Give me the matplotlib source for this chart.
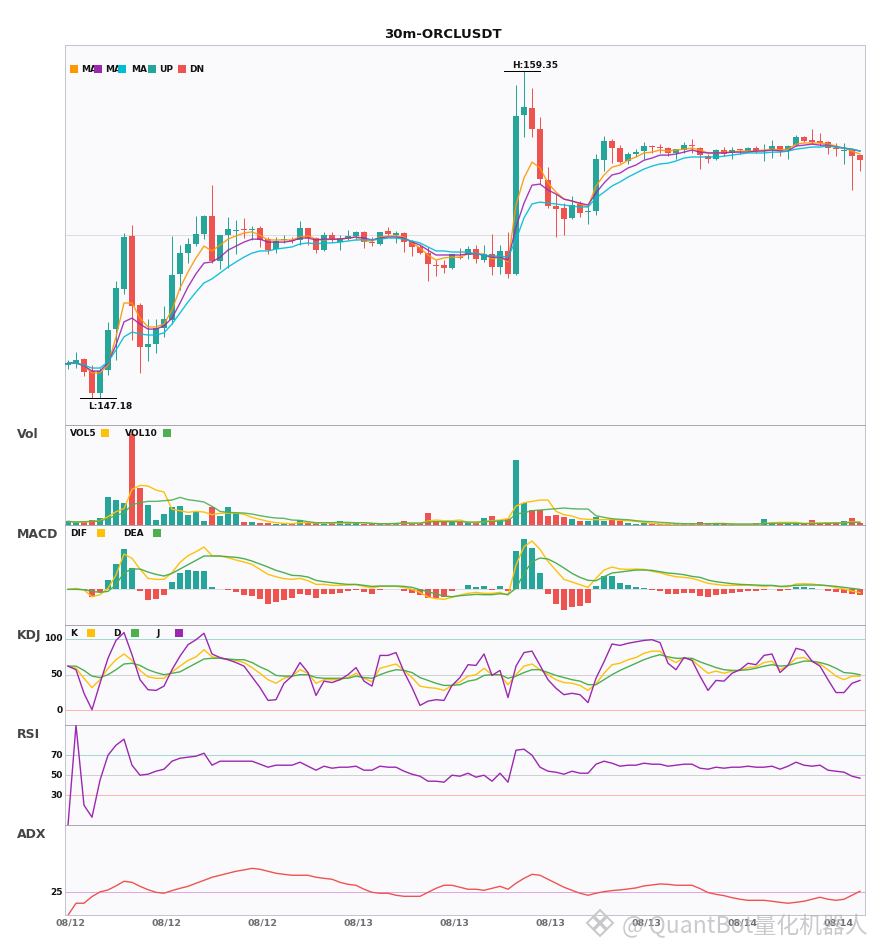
import matplotlib
matplotlib.use("Agg")
import matplotlib.pyplot as plt
from matplotlib.lines import Line2D
from matplotlib.patches import Rectangle

symbol_title = "30m-ORCLUSDT"
tick_positions = [0, 12, 24, 36, 48, 60, 72, 84, 96]
tick_labels = ["08/12", "08/12", "08/12", "08/13", "08/13", "08/13", "08/13", "08/14", "08/14"]

opens = [148.42,148.47,148.63,148.18,147.36,148.22,149.75,151.23,153.21,150.64,
         149.07,149.19,149.78,150.08,151.79,152.57,152.91,153.28,153.95,152.28,
         153.24,153.39,153.47,153.43,153.50,153.09,152.72,153.06,153.06,153.06,
         153.50,153.13,152.68,153.24,152.99,153.09,153.21,153.36,152.98,152.91,
         153.39,153.24,153.32,152.98,152.80,152.57,152.13,152.13,152.02,152.42,
         152.50,152.72,152.31,152.54,152.05,152.65,151.79,157.71,157.97,157.19,
         155.29,154.32,154.25,153.88,154.40,154.10,154.14,156.03,156.74,156.48,
         156.00,156.26,156.37,156.56,156.52,156.48,156.30,156.41,156.59,156.48,
         156.18,156.07,156.41,156.30,156.44,156.37,156.48,156.37,156.44,156.56,
         156.41,156.59,156.89,156.78,156.74,156.71,156.48,156.37,156.41,156.22]
closes = [148.47,148.59,148.14,147.36,148.18,149.71,151.27,153.17,150.60,149.07,
          149.19,149.78,150.12,151.75,152.57,152.91,153.28,153.95,152.28,153.24,
          153.47,153.43,153.43,153.47,153.06,152.68,153.02,153.09,153.02,153.50,
          153.13,152.68,153.24,153.06,153.13,153.21,153.36,152.98,152.95,153.36,
          153.28,153.32,152.98,152.80,152.57,152.16,152.09,152.02,152.54,152.39,
          152.72,152.35,152.54,152.05,152.65,151.79,157.67,158.01,157.19,155.33,
          154.32,154.21,153.84,154.36,154.06,154.14,156.07,156.74,156.48,155.96,
          156.26,156.33,156.56,156.52,156.48,156.30,156.44,156.59,156.56,156.22,
          156.07,156.41,156.26,156.41,156.41,156.48,156.37,156.41,156.56,156.37,
          156.56,156.89,156.74,156.71,156.67,156.48,156.44,156.41,156.18,156.03]
highs = [148.59,148.89,148.67,148.40,148.29,150.01,151.53,153.32,153.62,150.71,
         150.12,150.12,150.60,153.21,152.87,153.13,153.95,153.99,155.10,153.24,
         153.91,153.80,153.88,153.58,153.58,153.17,153.17,153.24,153.17,153.76,
         153.50,153.17,153.36,153.36,153.24,153.43,153.39,153.39,153.17,153.36,
         153.54,153.39,153.36,153.06,152.87,152.80,152.31,152.31,152.54,152.76,
         152.83,152.87,152.87,153.28,152.87,153.36,158.83,159.35,158.71,157.64,
         155.77,154.77,154.43,154.70,154.51,154.36,156.26,156.93,156.82,156.59,
         156.33,156.44,156.71,156.59,156.63,156.52,156.44,156.71,156.82,156.52,
         156.26,156.44,156.52,156.52,156.44,156.52,156.56,156.63,156.78,156.56,
         156.59,156.97,156.93,157.19,157.04,156.74,156.67,156.67,156.44,156.22]
lows = [148.26,148.29,147.99,147.18,147.18,148.03,148.59,151.05,149.34,148.11,
        148.55,148.85,149.45,149.93,151.20,152.20,152.83,153.09,152.20,151.98,
        152.02,152.54,153.13,153.06,152.80,152.54,152.57,152.95,152.95,152.87,
        152.87,152.57,152.65,152.98,152.68,153.06,153.06,152.76,152.83,152.87,
        153.24,152.95,152.61,152.46,152.54,151.53,151.72,151.83,151.98,152.35,
        152.35,152.20,152.24,151.75,151.79,151.64,151.75,156.89,156.89,155.14,
        154.25,153.17,153.24,153.84,153.91,153.65,153.99,155.63,155.92,155.92,
        155.89,156.15,156.07,156.30,156.30,156.18,156.07,156.30,156.30,155.70,
        155.92,156.03,156.18,156.07,156.26,156.33,156.30,156.00,156.11,156.18,
        156.07,156.56,156.71,156.63,156.59,156.26,156.18,155.89,154.92,155.63]

ma5 = [148.48,148.48,148.37,148.11,148.11,148.40,149.45,150.71,150.71,150.15,
       149.82,149.82,149.93,150.45,151.27,151.87,152.39,152.83,152.65,152.87,
       153.09,153.21,153.32,153.36,153.24,153.06,153.06,153.06,153.06,153.17,
       153.21,153.09,153.06,153.09,153.09,153.13,153.17,153.02,153.02,153.17,
       153.21,153.21,153.17,152.95,152.76,152.50,152.31,152.39,152.42,152.42,
       152.54,152.54,152.54,152.35,152.42,152.24,154.36,155.37,155.96,155.74,
       155.18,154.84,154.58,154.51,154.40,154.29,155.07,155.48,155.77,155.85,
       156.03,156.15,156.30,156.33,156.41,156.37,156.41,156.44,156.48,156.41,
       156.30,156.30,156.33,156.33,156.37,156.37,156.37,156.41,156.44,156.41,
       156.44,156.63,156.67,156.67,156.67,156.63,156.56,156.48,156.37,156.26]
ma10 = [148.48,148.48,148.37,148.18,148.18,148.48,149.15,150.01,150.15,149.93,
        149.74,149.74,149.86,150.15,150.71,151.31,151.80,152.20,152.24,152.42,
        152.68,152.83,152.98,153.09,153.09,152.98,152.98,152.98,153.02,153.13,
        153.13,153.06,153.09,153.09,153.09,153.13,153.17,153.13,153.06,153.13,
        153.17,153.17,153.13,152.98,152.87,152.68,152.50,152.50,152.50,152.50,
        152.54,152.54,152.50,152.42,152.42,152.31,153.54,154.43,155.10,155.14,
        154.92,154.77,154.58,154.51,154.43,154.36,154.81,155.18,155.48,155.55,
        155.74,155.85,156.03,156.11,156.22,156.22,156.26,156.33,156.41,156.33,
        156.30,156.30,156.30,156.33,156.33,156.33,156.37,156.37,156.41,156.37,
        156.37,156.56,156.59,156.63,156.59,156.59,156.52,156.48,156.44,156.37]
ma20 = [148.48,148.48,148.40,148.29,148.29,148.52,148.96,149.45,149.63,149.56,
        149.52,149.52,149.60,149.93,150.34,150.75,151.12,151.46,151.61,151.83,
        152.05,152.24,152.42,152.57,152.65,152.65,152.72,152.76,152.80,152.91,
        152.95,152.91,152.95,152.95,152.98,153.02,153.06,153.06,153.06,153.09,
        153.13,153.13,153.09,153.02,152.95,152.80,152.65,152.65,152.61,152.61,
        152.61,152.54,152.50,152.46,152.46,152.42,153.06,153.88,154.40,154.47,
        154.43,154.40,154.36,154.32,154.29,154.29,154.62,154.84,155.07,155.22,
        155.40,155.55,155.70,155.81,155.89,155.92,156.00,156.11,156.15,156.15,
        156.15,156.15,156.18,156.22,156.26,156.30,156.30,156.30,156.33,156.33,
        156.37,156.44,156.48,156.52,156.52,156.56,156.52,156.48,156.44,156.37]

volume = [10,8,8,14,19,83,74,65,272,110,
          59,14,32,53,56,29,40,11,53,26,
          53,35,8,8,5,5,3,3,2,14,
          5,5,3,4,11,5,4,3,3,2,
          2,4,11,4,4,35,11,7,7,7,
          7,4,20,26,14,18,194,64,44,44,
          26,29,23,17,11,11,23,11,17,11,
          5,2,5,3,1,1,1,2,2,8,
          2,2,3,1,1,1,4,17,4,3,
          4,4,3,14,5,8,5,11,20,5]
vol5 = [10,8,8,10,12,24,39,48,106,118,
        116,104,98,46,42,37,40,38,30,34,
        35,35,31,22,16,10,6,4,3,6,
        6,5,5,5,5,5,6,6,4,3,
        3,3,4,4,4,11,14,12,12,14,
        7,6,9,12,14,18,56,66,70,74,
        74,40,30,26,18,16,15,15,16,13,
        12,10,7,4,2,2,2,2,2,3,
        3,4,4,2,1,1,1,4,6,7,
        7,7,4,5,5,6,6,6,9,8]
vol10 = [10,8,9,10,11,18,28,35,60,66,
         70,70,72,74,82,75,72,68,55,40,
         37,36,35,32,27,23,20,19,14,13,
         9,6,6,6,7,7,6,6,4,3,
         3,4,5,5,5,8,9,9,9,9,
         8,8,9,10,11,12,32,36,42,44,
         46,48,50,48,47,47,27,22,18,16,
         15,12,10,9,7,6,4,3,3,3,
         3,3,3,2,2,2,2,3,4,4,
         4,4,3,3,4,4,5,5,7,7]

macd_hist = [0,1,-1,-22,-8,27,75,121,64,-4,
             -31,-28,-17,22,49,58,55,55,7,0,
             -2,-8,-17,-20,-29,-44,-38,-32,-26,-14,
             -17,-26,-14,-14,-11,-5,-2,-8,-14,-3,
             0,0,-5,-11,-17,-26,-26,-23,-5,0,
             13,7,10,-2,10,-5,115,151,124,49,
             -14,-44,-62,-53,-50,-41,10,40,40,19,
             13,7,3,-2,-5,-14,-14,-11,-11,-20,
             -23,-17,-14,-11,-8,-5,-5,-2,0,-5,
             -2,7,7,3,0,-5,-8,-11,-14,-17]
dif = [0,3,-2,-22,-16,3,43,106,93,61,
       33,30,30,50,81,101,113,127,101,100,
       95,88,82,75,60,45,38,32,30,33,
       26,15,15,12,12,13,14,9,4,9,
       9,9,6,0,-9,-23,-28,-30,-24,-17,
       -12,-9,-12,-12,-9,-18,73,128,145,120,
       84,57,30,22,14,6,33,58,67,61,
       60,61,60,54,50,43,38,36,33,26,
       18,15,12,12,12,13,11,9,11,8,
       8,16,17,16,13,11,5,1,-5,-10]
dea = [0,0,-1,-6,-9,-6,14,50,61,61,
       52,45,40,48,61,74,87,100,100,100,
       98,96,92,85,76,67,57,50,42,41,
       37,27,23,20,17,15,15,12,9,10,
       10,10,9,6,-1,-7,-14,-20,-22,-19,
       -17,-15,-16,-16,-13,-15,3,48,83,94,
       91,79,64,48,36,27,26,38,49,52,
       55,58,58,57,53,49,47,44,39,36,
       28,23,20,17,15,14,13,12,12,9,
       10,12,13,13,13,11,9,6,3,0]

k_vals = [62,59,45,32,43,59,71,79,70,56,
          47,45,45,54,62,70,75,85,75,73,
          71,70,67,60,52,43,38,45,48,57,
          52,38,43,43,43,46,52,45,40,59,
          62,65,56,46,34,32,31,28,35,40,
          48,50,59,50,50,36,50,62,65,57,
          50,43,39,38,35,28,37,52,64,66,
          71,74,80,83,83,73,67,74,71,61,
          52,55,52,55,56,60,61,67,69,57,
          63,73,74,68,65,57,48,43,48,48]
d_vals = [62,62,56,48,46,50,57,65,66,63,
          57,53,50,52,54,60,66,72,73,73,
          72,71,71,67,61,56,49,48,48,50,
          50,46,45,45,45,45,48,46,45,50,
          54,57,56,53,46,42,38,35,35,36,
          41,43,49,50,50,45,48,53,57,57,
          53,49,46,43,41,36,36,43,50,56,
          61,66,71,75,78,75,73,73,73,68,
          64,60,57,56,56,57,59,62,64,62,
          63,66,69,69,67,64,59,53,52,50]
j_vals = [62,57,24,1,38,73,98,109,78,43,
          29,28,34,57,76,92,99,108,79,74,
          71,67,62,47,32,14,15,38,48,67,
          53,21,41,39,43,50,60,41,34,77,
          77,81,54,32,7,13,15,14,35,46,
          64,63,79,49,56,18,62,81,83,63,
          43,31,22,24,22,11,45,68,93,91,
          94,96,98,99,95,66,57,74,70,48,
          28,42,41,52,57,66,64,77,79,53,
          63,87,84,69,62,43,25,25,38,42]

rsi_vals = [0,100,20,8,45,70,80,86,60,50,
            51,54,56,64,67,68,69,72,60,64,
            64,64,64,64,61,58,60,60,60,63,
            59,55,59,57,58,58,59,55,55,59,
            58,58,54,51,49,44,44,43,50,49,
            52,48,50,44,52,43,75,76,70,58,
            54,53,51,54,52,52,61,64,62,59,
            60,60,62,61,61,59,60,61,61,57,
            56,58,57,58,58,59,58,58,59,56,
            59,63,60,59,60,55,54,53,49,47]
adx_vals = [7.8,16.8,16.8,21.8,25.3,26.8,29.8,33.3,32.5,29.5,
            27,25,24.3,26.3,28,29.5,31.8,34,36.3,37.8,
            39.3,40.8,41.8,43,42.3,40.8,39.3,38.5,37.8,37.8,
            37.8,36.3,35.5,34.8,32.5,31,30.3,27.3,25,24.3,
            24.3,22.8,22,22,22,25,28,30.3,30.3,28.8,
            27.3,27.3,26.5,28,29.5,27.3,31.8,35.5,38.5,37.8,
            34.8,31.8,28.8,26.5,24.3,22.8,24.3,25.5,26.3,26.8,
            27.5,28.3,29.8,30.5,31.3,31,30.3,30.3,30.3,27.8,
            24.8,23.5,22.5,21,19.8,19,19,19,18.3,17.5,
            16.8,17.5,18.3,19.8,21.3,19.8,19,19.8,22.8,25.8]

UP = "#26A69A"
DN = "#EF5350"
ORANGE = "#FF9800"
PURPLE = "#9C27B0"
CYAN = "#00BCD4"
YELLOW = "#FFC107"
GREEN = "#4CAF50"
BG = "#FAFAFD"
W, H = 885, 950
HAIR = 0.72

fig = plt.figure(figsize=(W / 100, H / 100), dpi=100, facecolor="white")
plt.rcParams["font.family"] = "DejaVu Sans"


def panel(top, bottom, ylim):
    ax = fig.add_axes([65.0 / W, 1 - bottom / H, 800 / W, (bottom - top) / H], facecolor=BG)
    ax.set_xlim(-0.375, 99.625)
    ax.set_ylim(*ylim)
    ax.tick_params(axis="both", length=0)
    ax.set_xticks([])
    ax.set_yticks([])
    for side in ("left", "right", "bottom"):
        ax.spines[side].set_color("#C4C4CE")
        ax.spines[side].set_linewidth(HAIR)
    ax.spines["top"].set_color("#A8A8AE")
    ax.spines["top"].set_linewidth(HAIR)
    return ax


def px_text(x, y, s, **kw):
    kw.setdefault("fontsize", 6.5)
    kw.setdefault("fontweight", "bold")
    kw.setdefault("color", "#111111")
    kw.setdefault("va", "center")
    kw.setdefault("zorder", 20)
    return fig.text(x / W, 1 - y / H, s, **kw)


def swatch(x, y, color, size=8):
    fig.add_artist(Rectangle((x / W, 1 - (y + size) / H), size / W, size / H,
                             transform=fig.transFigure, facecolor=color,
                             edgecolor="none", zorder=25))


def axis_label(ax, val, s):
    ax.text(-0.003, val, s, transform=ax.get_yaxis_transform(), ha="right", va="center",
            fontsize=6.5, fontweight="bold", color="#111111", clip_on=False)


xs = list(range(100))
colors = [UP if c >= o else DN for o, c in zip(opens, closes)]

# main panel
ax0 = panel(45, 424.7, (146.18, 160.32))
ax0.spines["top"].set_color("#C4C4CE")
ax0.axhline(153.24, color="#DDDDE0", lw=HAIR, zorder=1)
ax0.vlines(xs, lows, highs, colors=colors, lw=HAIR, zorder=2)
ax0.bar(xs, [abs(c - o) for o, c in zip(opens, closes)],
        bottom=[min(o, c) for o, c in zip(opens, closes)],
        width=0.75, color=colors, linewidth=0, zorder=3)
for series, col in ((ma5, ORANGE), (ma10, PURPLE), (ma20, CYAN)):
    ax0.plot(xs, series, color=col, lw=1.0, alpha=0.9, zorder=4)
hi, lo = max(highs), min(lows)
i_hi, i_lo = highs.index(hi), lows.index(lo)
ax0.plot([i_hi - 2.5, i_hi + 2.0], [hi, hi], color="black", lw=HAIR, zorder=5)
ax0.plot([i_lo - 1.5, i_lo + 3.0], [lo, lo], color="black", lw=HAIR, zorder=5)
ax0.text(i_hi + 1.375, hi + 0.22, f"H:{hi:.2f}", ha="center", va="center",
         fontsize=6.5, fontweight="bold", color="#111111", zorder=6)
ax0.text(i_lo + 2.25, lo - 0.33, f"L:{lo:.2f}", ha="center", va="center",
         fontsize=6.5, fontweight="bold", color="#111111", zorder=6)

px_text(443, 34, symbol_title, fontsize=9.5, ha="center")
for sx, tx, col, lab in ((70, 81, ORANGE, "MA"), (94, 105, PURPLE, "MA"), (118, 131, CYAN, "MA"),
                         (148, 159, UP, "UP"), (178, 189, DN, "DN")):
    swatch(sx, 65, col)
    px_text(tx, 69, lab)

# volume
ax1 = panel(424.7, 524.7, (0, 300))
ax1.bar(xs, volume, width=0.75, color=colors, linewidth=0, zorder=2)
ax1.plot(xs, vol5, color=YELLOW, lw=1.0, zorder=3)
ax1.plot(xs, vol10, color=GREEN, lw=1.0, alpha=0.9, zorder=3)
px_text(17, 435, "Vol", fontsize=9, color="#444444")
px_text(70, 433.5, "VOL5")
swatch(101, 429, YELLOW)
px_text(125, 433.5, "VOL10")
swatch(163, 429, GREEN)

# MACD
ax2 = panel(524.7, 624.7, (-1.06, 1.94))
ax2.axhline(0, color="#DDDDE0", lw=HAIR, zorder=1)
ax2.bar(xs, [v / 100 for v in macd_hist], width=0.75,
        color=[UP if v >= 0 else DN for v in macd_hist], linewidth=0, zorder=2)
ax2.plot(xs, [v / 100 for v in dif], color=YELLOW, lw=1.0, zorder=3)
ax2.plot(xs, [v / 100 for v in dea], color=GREEN, lw=1.0, zorder=3)
px_text(17, 535, "MACD", fontsize=9, color="#444444")
px_text(70, 533.5, "DIF")
swatch(97, 529, YELLOW)
px_text(123, 533.5, "DEA")
swatch(153, 529, GREEN)

# KDJ
ax3 = panel(624.7, 724.7, (-20, 120))
ax3.axhline(100, color="#A5DAD4", lw=HAIR, zorder=1)
ax3.axhline(50, color="#CFCFD4", lw=HAIR, zorder=1)
ax3.axhline(0, color="#FFB4B0", lw=HAIR, zorder=1)
ax3.plot(xs, k_vals, color=YELLOW, lw=1.0, zorder=3)
ax3.plot(xs, d_vals, color=GREEN, lw=1.0, zorder=3)
ax3.plot(xs, j_vals, color=PURPLE, lw=1.0, zorder=4)
px_text(17, 635, "KDJ", fontsize=9, color="#444444")
px_text(70, 633.5, "K")
swatch(87, 629, YELLOW)
px_text(113, 633.5, "D")
swatch(131, 629, GREEN)
px_text(156, 633.5, "J")
swatch(175, 629, PURPLE)
for val in (100, 50, 0):
    axis_label(ax3, val + 0.5, str(val))

# RSI
ax4 = panel(724.7, 824.7, (0.5, 100.5))
ax4.axhline(70, color="#A5DAD4", lw=HAIR, zorder=1)
ax4.axhline(50, color="#CFCFD4", lw=HAIR, zorder=1)
ax4.axhline(30, color="#FFB4B0", lw=HAIR, zorder=1)
ax4.plot(xs, rsi_vals, color=PURPLE, lw=1.0, zorder=3)
px_text(17, 735, "RSI", fontsize=9, color="#444444")
for val in (70, 50, 30):
    axis_label(ax4, val, str(val))

# ADX
ax5 = panel(824.7, 915.3, (7.75, 75.75))
ax5.axhline(25, color="#E1A8E6", lw=HAIR, zorder=1)
ax5.plot(xs, adx_vals, color="#EF5350", lw=1.0, zorder=3)
px_text(17, 835, "ADX", fontsize=9, color="#444444")
axis_label(ax5, 25, "25")
ax5.set_xticks([p + 0.25 for p in tick_positions])
ax5.set_xticklabels(tick_labels, fontsize=6.8, fontweight="bold", color="#6E6E72")
ax5.tick_params(axis="x", length=0, pad=2)

# watermark
for dx, dy in ((-7, 0), (7, 0), (0, -7), (0, 7)):
    fig.add_artist(Line2D([(600 + dx) / W], [1 - (923 + dy) / H], marker="D", markersize=6,
                          markerfacecolor="none", markeredgecolor="#C8C8CC", markeredgewidth=1.4,
                          transform=fig.transFigure, zorder=29))
fig.text(622 / W, 1 - 925 / H, "@ QuantBot量化机器人", fontsize=16.5,
         family=["Noto Sans CJK SC", "DejaVu Sans"], color="#B4B4BA", alpha=0.7,
         va="center", ha="left", zorder=30)

fig.savefig("out.png", dpi=100, facecolor="white")
